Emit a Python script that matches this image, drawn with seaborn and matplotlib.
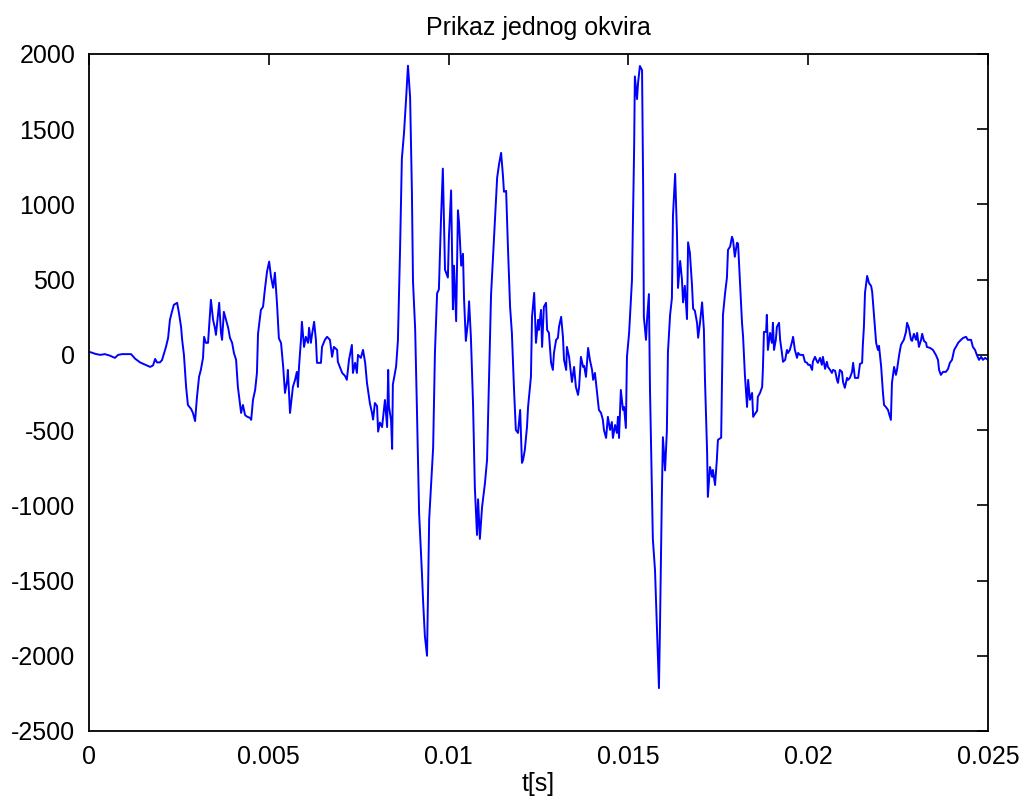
import numpy as np
import pandas as pd
import matplotlib
matplotlib.use("Agg")
import matplotlib.pyplot as plt
import seaborn as sns

# One analysis frame of a speech signal: time in milliseconds, amplitude in sample units.
t_ms_1 = [0.00, 0.08, 0.17, 0.31, 0.44, 0.58, 0.72, 0.81, 0.92, 1.06, 1.17, 1.28, 1.42,
          1.56, 1.70, 1.78, 1.84, 1.89, 1.97, 2.03, 2.09, 2.14, 2.20, 2.25, 2.31, 2.36,
          2.45, 2.50, 2.56, 2.59, 2.64, 2.70, 2.75, 2.84, 2.89, 2.95, 3.00, 3.06, 3.11,
          3.17, 3.20, 3.25, 3.31, 3.39, 3.45, 3.50, 3.53, 3.62, 3.67, 3.70, 3.75, 3.81,
          3.87, 3.92, 3.98, 4.03, 4.09, 4.14, 4.23, 4.28, 4.34, 4.39, 4.48, 4.51, 4.56,
          4.62, 4.67, 4.70, 4.78, 4.84, 4.89, 4.95]
amp_1 = [20, 15, 7, 0, 5, -5, -20, 0, 5, 5, 5, -25, -50,
         -65, -80, -70, -27, -50, -50, -35, 13, 53, 113, 233, 290, 333,
         346, 280, 186, 100, 0, -213, -333, -360, -386, -440, -286, -146, -100,
         -20, 120, 80, 80, 366, 233, 180, 133, 346, 146, 100, 286, 233,
         180, 113, 80, 13, -33, -213, -386, -333, -400, -410, -419, -432, -299,
         -233, -120, 140, 299, 320, 433, 553]

t_ms_2 = [5.01, 5.06, 5.12, 5.17, 5.23, 5.28, 5.34, 5.40, 5.45, 5.51, 5.53, 5.59, 5.65,
          5.67, 5.73, 5.78, 5.81, 5.84, 5.90, 5.92, 5.98, 6.03, 6.09, 6.12, 6.17, 6.20,
          6.26, 6.31, 6.34, 6.45, 6.48, 6.56, 6.62, 6.70, 6.76, 6.81, 6.90, 6.92, 7.04,
          7.12, 7.17, 7.23, 7.31, 7.34, 7.40, 7.45, 7.48, 7.56, 7.62, 7.68, 7.73, 7.81,
          7.87, 7.90, 7.95, 8.01, 8.04, 8.09, 8.15, 8.23, 8.29, 8.32, 8.34, 8.40, 8.43,
          8.45, 8.54, 8.59, 8.65, 8.70, 8.76, 8.82, 8.87, 8.93, 8.98, 9.01, 9.07, 9.12,
          9.18, 9.26, 9.29, 9.34, 9.40, 9.46, 9.54, 9.57, 9.62, 9.68, 9.73, 9.79, 9.84,
          9.87, 9.90, 9.98]
amp_2 = [620, 520, 446, 546, 333, 110, 80, -80, -253, -170, -100, -386, -253,
         -213, -166, -113, -213, -80, 120, 220, 53, 120, 80, 180, 80, 133,
         220, 100, -53, -53, 53, 100, 120, 100, -13, 53, 33, -46, -120,
         -140, -166, -33, 66, -120, -53, -120, 0, -20, 33, -53, -186, -320,
         -386, -430, -320, -340, -510, -450, -480, -300, -480, -100, -340, -434, -625,
         -197, -78, 93, 698, 1303, 1475, 1711, 1922, 1711, 1080, 488, 172, -368,
         -1052, -1460, -1632, -1868, -2000, -1092, -750, -618, 14, 409, 435, 909, 1238,
         909, 566, 514]

t_ms_3 = [10.01, 10.07, 10.12, 10.15, 10.21, 10.26, 10.29, 10.35, 10.40, 10.43, 10.48,
          10.54, 10.57, 10.62, 10.68, 10.73, 10.79, 10.82, 10.87, 10.93, 11.01, 11.07,
          11.12, 11.18, 11.24, 11.29, 11.35, 11.40, 11.46, 11.51, 11.54, 11.60, 11.65,
          11.71, 11.76, 11.82, 11.87, 11.93, 11.99, 12.04, 12.07, 12.12, 12.18, 12.21,
          12.29, 12.32, 12.38, 12.43, 12.49, 12.51, 12.57, 12.60, 12.65, 12.71, 12.74,
          12.79, 12.85, 12.90, 12.93, 12.99, 13.04, 13.07, 13.13, 13.18, 13.21, 13.27,
          13.29, 13.35, 13.40, 13.43, 13.49, 13.54, 13.60, 13.63, 13.68, 13.74, 13.77,
          13.82, 13.88, 13.93, 13.99, 14.02, 14.07, 14.13, 14.18, 14.24, 14.29, 14.32,
          14.38, 14.43, 14.49, 14.54, 14.57, 14.63, 14.68, 14.71, 14.74, 14.79, 14.85,
          14.88, 14.93, 14.96]
amp_3 = [790, 1093, 303, 593, 224, 961, 882, 593, 672, 369, 93,
         224, 356, 119, -328, -881, -1197, -960, -1223, -1013, -855, -697,
         -197, 395, 672, 909, 1177, 1263, 1343, 1197, 1084, 1090, 718,
         319, 146, -233, -499, -519, -366, -718, -700, -632, -479, -346,
         -146, 253, 412, 80, 233, 166, 299, 53, 319, 346, 166,
         146, -53, -100, 13, 100, 113, 186, 253, 120, -33, -100,
         53, -13, -120, -180, -80, -213, -266, -213, -13, -80, -73,
         -146, 46, -33, -100, -166, -120, -253, -366, -386, -432, -499,
         -552, -412, -499, -446, -552, -466, -519, -412, -552, -233, -366,
         -346, -486, -13]

t_ms_4 = [15.02, 15.10, 15.16, 15.18, 15.24, 15.27, 15.32, 15.38, 15.41, 15.43, 15.49,
          15.52, 15.57, 15.60, 15.66, 15.68, 15.74, 15.80, 15.85, 15.88, 15.93, 15.96,
          16.02, 16.07, 16.10, 16.16, 16.21, 16.24, 16.30, 16.35, 16.38, 16.44, 16.49,
          16.52, 16.57, 16.63, 16.66, 16.71, 16.77, 16.80, 16.85, 16.91, 16.94, 16.99,
          17.05, 17.10, 17.13, 17.19, 17.21, 17.27, 17.33, 17.35, 17.41, 17.46, 17.49,
          17.58, 17.60, 17.63, 17.69, 17.74, 17.77, 17.83, 17.88, 17.91, 17.96, 18.02,
          18.05, 18.10, 18.16, 18.19, 18.24, 18.30, 18.33, 18.38, 18.44, 18.47, 18.52,
          18.58, 18.60, 18.66, 18.72, 18.74, 18.77, 18.83, 18.85, 18.88, 18.94, 18.99,
          19.02, 19.05, 19.10, 19.13, 19.19, 19.22, 19.27, 19.30, 19.36, 19.41, 19.44,
          19.49, 19.55, 19.58, 19.63, 19.69, 19.72, 19.77, 19.86, 19.91, 19.97]
amp_4 = [146, 499, 1376, 1851, 1700, 1810, 1920, 1892, 1134, 252, 100,
         238, 404, -217, -961, -1223, -1430, -1857, -2215, -1788, -947, -547,
         -768, -506, 18, 266, 376, 927, 1203, 817, 445, 624, 500,
         349, 459, 238, 748, 679, 459, 307, 293, 211, 114, 211,
         349, 166, -166, -652, -944, -745, -811, -765, -865, -698, -565,
         -550, -213, 266, 412, 512, 698, 720, 785, 765, 652, 745,
         740, 499, 213, 120, -133, -346, -166, -299, -253, -412, -392,
         -372, -279, -253, -213, -100, 153, 153, 266, 33, 146, 80,
         213, 33, 100, 186, 213, 100, 13, -46, -33, 33, 13,
         33, 86, 120, 33, -20, 13, 0, 0, -46, -53]

t_ms_5 = [20.00, 20.05, 20.11, 20.13, 20.19, 20.25, 20.27, 20.33, 20.38, 20.41, 20.47,
          20.52, 20.55, 20.61, 20.66, 20.69, 20.75, 20.80, 20.83, 20.88, 20.94, 20.97,
          21.02, 21.08, 21.11, 21.16, 21.22, 21.25, 21.30, 21.39, 21.44, 21.50, 21.52,
          21.55, 21.58, 21.64, 21.69, 21.75, 21.78, 21.83, 21.89, 21.94, 21.97, 22.03,
          22.08, 22.11, 22.16, 22.22, 22.25, 22.30, 22.33, 22.39, 22.44, 22.47, 22.53,
          22.58, 22.61, 22.66, 22.72, 22.75, 22.80, 22.86, 22.89, 22.94, 23.00, 23.03,
          23.08, 23.14, 23.17, 23.22, 23.28, 23.30, 23.39, 23.47, 23.55, 23.61, 23.64,
          23.69, 23.75, 23.83, 23.89, 23.94, 24.00, 24.06, 24.14, 24.17, 24.25, 24.31,
          24.39, 24.44, 24.53, 24.58, 24.64, 24.69, 24.75, 24.81, 24.86, 24.92, 25.00]
amp_5 = [-66, -66, -100, -46, -13, -46, -53, -20, -66, -13, -93,
         -46, -80, -100, -120, -100, -106, -166, -186, -100, -113, -180,
         -219, -153, -166, -153, -113, -53, -153, -153, -60, -53, 66,
         186, 412, 525, 478, 458, 419, 266, 80, 33, 60, -80,
         -253, -333, -346, -366, -392, -432, -186, -80, -133, -100, 0,
         66, 80, 100, 153, 213, 180, 100, 93, 140, 100, 146,
         53, 100, 140, 93, 80, 53, 46, 33, 0, -33, -100,
         -133, -113, -113, -93, -53, -33, 33, 66, 80, 100, 113,
         120, 100, 100, 53, 33, 0, -33, -13, -33, -20, -33]

x_ticks = [0, 0.005, 0.01, 0.015, 0.02, 0.025]
x_tick_labels = ["0", "0.005", "0.01", "0.015", "0.02", "0.025"]
y_ticks = [-2500, -2000, -1500, -1000, -500, 0, 500, 1000, 1500, 2000]
title_text = "Prikaz jednog okvira"
xlabel_text = "t[s]"

frame = pd.DataFrame({
    "t": np.concatenate([t_ms_1, t_ms_2, t_ms_3, t_ms_4, t_ms_5]) / 1000.0,
    "amp": np.concatenate([amp_1, amp_2, amp_3, amp_4, amp_5]),
})

sns.set_style("white")
plt.rcParams["font.family"] = ["Liberation Sans", "DejaVu Sans"]

fig = plt.figure(figsize=(10.22, 8.01), dpi=100, facecolor="white")
ax = fig.add_axes([0.0871, 0.0874, 0.8796, 0.8452])

sns.lineplot(data=frame, x="t", y="amp", ax=ax, color="#0000ff",
             linewidth=1.4, estimator=None, sort=False)

ax.set_xlim(0, 0.025)
ax.set_ylim(-2500, 2000)
ax.set_xticks(x_ticks)
ax.set_xticklabels(x_tick_labels)
ax.set_yticks(y_ticks)
ax.set_yticklabels([str(v) for v in y_ticks])

ax.tick_params(direction="in", length=8, width=1.2, colors="black",
               labelsize=18, top=True, right=True, pad=10)
for side in ax.spines.values():
    side.set_color("black")
    side.set_linewidth(1.3)

ax.set_title(title_text, fontsize=18, pad=14, color="black")
ax.set_xlabel(xlabel_text, fontsize=18, labelpad=2, color="black")
ax.set_ylabel("")
ax.grid(False)

fig.savefig("out.png", dpi=100, facecolor="white")
